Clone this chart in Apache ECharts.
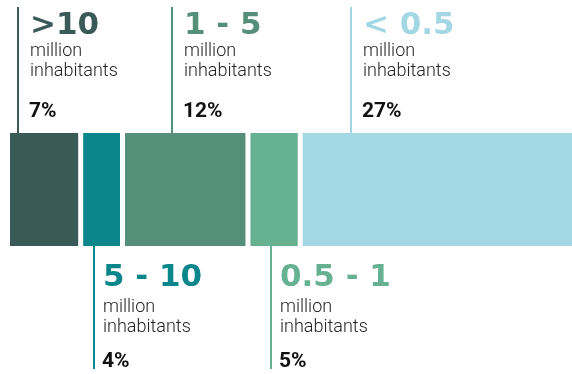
<!DOCTYPE html>
<html>
<head>
<meta charset="utf-8">
<script src="https://cdn.jsdelivr.net/npm/echarts@6/dist/echarts.min.js"></script>
<style>
  html, body { margin: 0; padding: 0; background: #fff; }
  #chart { width: 572px; height: 374px; }
</style>
</head>
<body>
<div id="chart"></div>
<script>
// city size classes, share of population (%)
const classes = [">10", "5 - 10", "1 - 5", "0.5 - 1", "< 0.5"];
const shares = [7, 4, 12, 5, 27];
const unitLabel = ["million", "inhabitants"];
const sides = ["top", "bottom", "top", "bottom", "top"];

const colors = ["#395a56", "#0b868b", "#558f7a", "#67b193", "#a3d7e4"];
// leader line offset from segment start, px
const leaderOffset = [10.5, 13.3, 49.5, 22.8, 50.5];

const chart = echarts.init(document.getElementById("chart"), null, { renderer: "canvas" });

chart.setOption({
  animation: false,
  // bar runs past the right edge of the picture
  grid: { left: 7.5, width: 575, top: 130.5, height: 118, outerBoundsMode: "none" },
  xAxis: { type: "value", min: 0, max: 55, show: false },
  yAxis: { type: "category", data: ["share"], show: false },
  series: classes.map((c, i) => ({
    name: c,
    type: "bar",
    stack: "total",
    barWidth: "100%",
    silent: true,
    data: [shares[i]],
    itemStyle: { color: colors[i], borderColor: "#fff", borderWidth: 2.5 },
  })),
});

const barTop = 133;
const barBottom = 246;
const graphics = [];
let acc = 0;
classes.forEach((c, i) => {
  const x0 = chart.convertToPixel({ xAxisIndex: 0 }, acc);
  acc += shares[i];
  const lx = Math.round(x0 + leaderOffset[i]);
  const top = sides[i] === "top";
  const tx = lx + (top ? 12 : 9);
  const y0 = top ? 0 : 252;
  graphics.push({
    type: "line",
    z: 10,
    shape: top ? { x1: lx, y1: 7, x2: lx, y2: barTop + 1 } : { x1: lx, y1: barBottom - 1, x2: lx, y2: 369 },
    style: { stroke: colors[i], lineWidth: 2 },
  });
  graphics.push({
    type: "text", x: tx, y: y0 + 10.5, z: 10,
    style: { text: c, fill: colors[i], font: "bold 31px 'DejaVu Sans'", verticalAlign: "top" },
  });
  unitLabel.forEach((t, j) => {
    graphics.push({
      type: "text", x: tx, y: y0 + (top ? 42.6 : 46.6) + j * 20, z: 10,
      style: { text: t, fill: "#222", font: "300 18px Roboto", verticalAlign: "top" },
    });
  });
  graphics.push({
    type: "text", x: tx - 1, y: y0 + (top ? 101 : 99.5), z: 10,
    style: { text: shares[i] + "%", fill: "#111", font: "bold 21px Roboto", verticalAlign: "top" },
  });
});
chart.setOption({ graphic: graphics });

window.addEventListener("resize", () => chart.resize());
</script>
</body>
</html>
